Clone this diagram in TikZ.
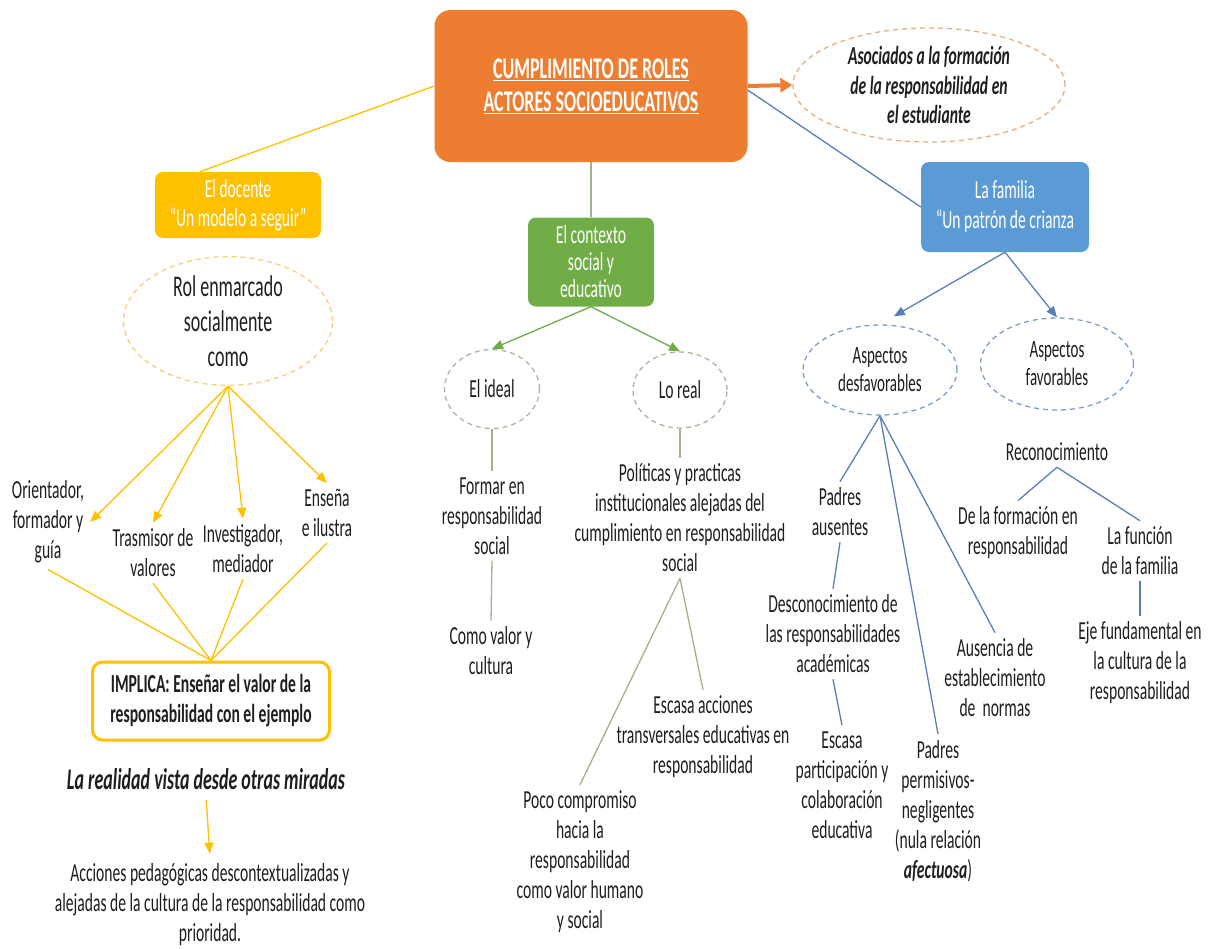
\documentclass[tikz,border=0pt]{standalone}
\usepackage{fontspec}
\setmainfont{Carlito}[FakeStretch=0.6]
\usepackage{tikz}
\usetikzlibrary{arrows.meta,shapes,positioning,calc}
\definecolor{naranja}{HTML}{ED7D31}
\definecolor{naranjaclaro}{HTML}{E9AE7E}
\definecolor{amarillo}{HTML}{FFC000}
\definecolor{amarilloclaro}{HTML}{F3D27A}
\definecolor{verde}{HTML}{70AD47}
\definecolor{verdegris}{HTML}{9FB38D}
\definecolor{verdeclaro}{HTML}{A9B89A}
\definecolor{azul}{HTML}{5B9BD5}
\definecolor{azullinea}{HTML}{5A7EB8}
\definecolor{azulclaro}{HTML}{7F9DCB}
\definecolor{texto}{HTML}{1E1E1E}
\tikzstyle{caja}=[rounded corners=8pt, text=white, align=center, inner sep=0pt]
\tikzstyle{nube}=[ellipse, dashed, dash pattern=on 5pt off 4pt, line width=1.3pt, inner sep=0pt, align=center, text=texto]
\tikzstyle{txt}=[align=center, text=texto, inner sep=6pt]
\tikzstyle{amar}=[draw=amarillo, line width=1.3pt]
\tikzstyle{verd}=[draw=verde, line width=1.3pt]
\tikzstyle{azl}=[draw=azullinea, line width=1.3pt]
\tikzstyle{flecha}=[-{Triangle[length=11pt,width=9pt]}]

\begin{document}
\begin{tikzpicture}[x=1pt, y=-1pt, font=\fontsize{26}{30}\selectfont]
      \useasboundingbox (0,0) rectangle (1221,948);
      % raiz
      \node at (591,86) [caja, fill=naranja, minimum width=313pt, minimum height=152pt, rounded corners=16pt, font=\fontsize{30}{33}\selectfont\bfseries] (roles) {\underline{CUMPLIMIENTO DE ROLES}\\\underline{ACTORES SOCIOEDUCATIVOS}};
      \node at (929,85) [nube, draw=naranjaclaro, minimum width=272pt, minimum height=114pt, font=\fontsize{26}{29.5}\selectfont\bfseries\itshape] (asociados) {Asociados a la formación\\de la responsabilidad en\\el estudiante};
      \node at (238,205) [caja, fill=amarillo, minimum width=166pt, minimum height=66pt, font=\fontsize{26}{29}\selectfont] (docente) {El docente\\“Un modelo a seguir”};
      \node at (591,262) [caja, fill=verde, minimum width=126pt, minimum height=89pt, font=\fontsize{26}{27}\selectfont] (contexto) {El contexto\\social y\\educativo};
      \node at (1005,207) [caja, fill=azul, minimum width=168pt, minimum height=90pt] (familia) {La familia\\“Un patrón de crianza};
      %
      % el docente
      \node at (228,321) [nube, draw=amarilloclaro, minimum width=209pt, minimum height=122pt, font=\fontsize{30}{35}\selectfont] (rol) {Rol enmarcado\\socialmente\\como};
      \node at (48,522) [txt] (orient) {Orientador,\\formador y\\guía};
      \node at (153,553) [txt] (trasm) {Trasmisor de\\valores};
      \node at (243,549) [txt] (invest) {Investigador,\\mediador};
      \node at (327,513) [txt] (ensena) {Enseña\\e ilustra};
      \node at (211,701) [caja, draw=amarillo, fill=white, line width=3pt, rounded corners=10pt, minimum width=237pt, minimum height=78pt, text=texto, font=\fontsize{26}{30}\selectfont\bfseries] (implica) {IMPLICA: Enseñar el valor de la\\responsabilidad con el ejemplo};
      \node at (206,779) [txt, font=\fontsize{30}{30}\selectfont\bfseries\itshape] (realidad) {La realidad vista desde otras miradas};
      \node at (210,905) [txt] (acciones) {Acciones pedagógicas descontextualizadas y\\alejadas de la cultura de la responsabilidad como\\prioridad.};
      %
      % el contexto
      \node at (492,389) [nube, draw=verdeclaro, minimum width=95pt, minimum height=79pt] (ideal) {El ideal};
      \node at (680,390) [nube, draw=verdeclaro, minimum width=94pt, minimum height=76pt] (real) {Lo real};
      \node at (492,516) [txt] (formar) {Formar en\\responsabilidad\\social};
      \node at (491,651) [txt] (comovalor) {Como valor y\\cultura};
      \node at (680,518) [txt] (politicas) {Políticas y practicas\\institucionales alejadas del\\cumplimiento en responsabilidad\\social};
      \node at (703,737) [txt] (escasa) {Escasa acciones\\transversales educativas en\\responsabilidad};
      \node at (580,862) [txt] (poco) {Poco compromiso\\hacia la\\responsabilidad\\como valor humano\\y social};
      %
      % la familia
      \node at (880,370) [nube, draw=azulclaro, minimum width=154pt, minimum height=90pt, font=\fontsize{25}{28}\selectfont] (desfav) {Aspectos\\desfavorables};
      \node at (1057,364) [nube, draw=azulclaro, minimum width=153pt, minimum height=92pt, font=\fontsize{25}{28}\selectfont] (fav) {Aspectos\\favorables};
      \node at (840,512) [txt] (ausentes) {Padres\\ausentes};
      \node at (833,634) [txt] (descon) {Desconocimiento de\\las responsabilidades\\académicas};
      \node at (842,785) [txt] (escpart) {Escasa\\participación y\\colaboración\\educativa};
      \node at (938,811) [txt] (permis) {Padres\\permisivos-\\negligentes\\(nula relación\\\textbf{\textit{afectuosa}})};
      \node at (995,678) [txt] (ausencia) {Ausencia de\\establecimiento\\de\ \ normas};
      \node at (1057,452) [txt] (reconoc) {Reconocimiento};
      \node at (1018,533) [txt] (formacion) {De la formación en\\responsabilidad};
      \node at (1140,551) [txt] (funcion) {La función\\de la familia};
      \node at (1140,663) [txt] (eje) {Eje fundamental en\\la cultura de la\\responsabilidad};
      %
      % conectores
      \draw [draw=naranja, line width=4pt, -{Triangle[length=12pt,width=14pt]}] (roles.east) -- (asociados.west);
      \draw [amar] (roles.west) -- ([xshift=45pt]docente.north west);
      \draw [draw=verdegris, line width=1.3pt] (roles.south) -- (contexto.north);
      \draw [azl] ([yshift=-4pt]roles.east) -- (familia.west);
      %
      \foreach \n in {orient.east, trasm.north, invest.north, ensena.north}
        \draw [amar, flecha] (rol.south) -- (\n);
      \foreach \n in {orient, trasm, invest, ensena}
        \draw [amar] (\n.south) -- (implica.north);
      \draw [amar, flecha, shorten <=4pt, shorten >=4pt] (realidad.south) -- (acciones.north);
      %
      \draw [verd, flecha] (contexto.south) -- (ideal.north);
      \draw [verd, flecha] (contexto.south) -- (real.north);
      \draw [draw=verdegris, line width=1.3pt] (ideal.south) -- (formar.north);
      \draw [draw=verdegris, line width=1.3pt] (formar.south) -- (comovalor.north);
      \draw [draw=verdegris, line width=1.3pt] (real.south) -- (politicas.north);
      \draw [draw=verdegris, line width=1.3pt] (politicas.south) -- (poco.north);
      \draw [draw=verdegris, line width=1.3pt] (politicas.south) -- (escasa.north);
      %
      \draw [azl, flecha, shorten >=16pt] (familia.south) -- (desfav.north);
      \draw [azl, flecha] (familia.south) -- (fav.north);
      \draw [azl] (desfav.south) -- (ausentes.north);
      \draw [azl] (desfav.south) -- (permis.north);
      \draw [azl] (desfav.south) -- (ausencia.north);
      \draw [azl] (ausentes.south) -- (descon.north);
      \draw [azl] (descon.south) -- (escpart.north);
      \draw [azl] (reconoc.south) -- (formacion.north);
      \draw [azl] (reconoc.south) -- (funcion.north);
      \draw [azl] (funcion.south) -- (eje.north);
\end{tikzpicture}
\end{document}
